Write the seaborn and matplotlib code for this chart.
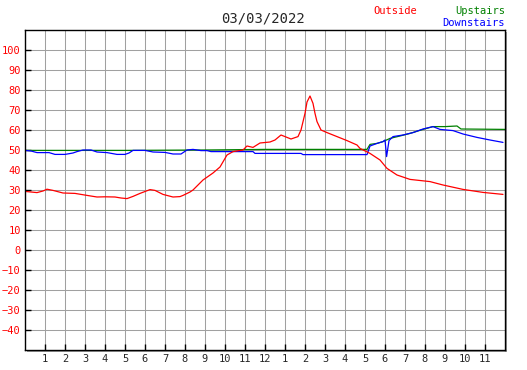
import seaborn as sns
import pandas as pd
import matplotlib.pyplot as plt
from matplotlib.patches import Rectangle

# hours since midnight and temperatures
out_hours = [0.0, 0.3, 0.6, 0.9, 1.1, 1.4, 1.9, 2.5, 3.1, 3.6, 4.0, 4.5, 4.8, 5.1, 5.4,
             5.75, 6.25, 6.5, 6.9, 7.4, 7.75, 7.9, 8.25, 8.4, 8.9, 9.4, 9.75, 10.1, 10.4,
             10.9, 11.1, 11.4, 11.75, 12.25, 12.5, 12.8, 13.1, 13.3, 13.65, 13.8, 14.0,
             14.1, 14.25, 14.4, 14.5, 14.6, 14.8, 15.1, 15.6, 16.1, 16.6, 16.75, 17.25,
             17.75, 18.1, 18.6, 19.25, 20.25, 20.9, 21.9, 22.9, 23.9]
outside = [29.3, 29.0, 28.7, 29.5, 30.4, 29.8, 28.5, 28.3, 27.3, 26.5, 26.6, 26.5, 26.0, 25.7, 26.8,
           28.3, 30.2, 29.8, 27.8, 26.5, 26.7, 27.3, 29.0, 30.0, 35.0, 38.5, 41.5, 47.5, 49.2,
           50.0, 52.0, 51.3, 53.5, 54.0, 55.0, 57.5, 56.3, 55.5, 56.7, 60.0, 68.3,
           74.0, 77.0, 73.3, 68.3, 64.2, 60.0, 58.7, 56.7, 54.7, 52.5, 50.8, 48.3,
           45.0, 40.8, 37.5, 35.3, 34.2, 32.5, 30.3, 28.8, 27.8]

up_hours = [0.0, 5.0, 9.0, 12.0, 17.1, 17.25, 17.6, 17.9, 18.25, 18.75, 19.25, 19.9,
            20.4, 21.0, 21.6, 21.8, 24.0]
upstairs = [49.8, 49.8, 50.0, 50.3, 50.3, 52.8, 53.3, 54.2, 55.8, 57.0, 58.3, 60.3,
            61.7, 61.7, 62.0, 60.5, 60.3]

down_hours = [0.0, 0.3, 0.6, 1.2, 1.5, 2.0, 2.4, 2.6, 2.9, 3.3, 3.6, 4.1, 4.6, 5.0, 5.2,
              5.4, 6.0, 6.4, 7.0, 7.4, 7.8, 8.1, 8.4, 8.8, 9.1, 9.3, 11.4, 11.5, 13.8,
              13.9, 17.1, 17.25, 17.6, 17.9, 18.0, 18.08, 18.2, 18.4, 18.9, 19.4, 19.9,
              20.4, 20.75, 21.4, 21.9, 22.6, 23.25, 23.9]
downstairs = [49.8, 49.5, 48.7, 48.7, 47.8, 47.8, 48.5, 49.2, 50.0, 50.0, 49.0, 48.7, 47.8, 47.8, 48.5,
              49.8, 49.8, 49.0, 48.8, 48.0, 48.0, 50.0, 50.3, 49.7, 49.7, 49.2, 49.2, 48.3, 48.3,
              47.7, 47.7, 52.0, 53.3, 54.2, 55.0, 46.7, 54.7, 56.7, 57.5, 58.7, 60.5,
              61.7, 60.3, 59.7, 58.0, 56.3, 55.0, 53.8]

x_ticks = list(range(1, 24))
x_labels = [str(h if h <= 12 else h - 12) for h in x_ticks]
y_ticks = list(range(-40, 101, 10))

sns.set_style("white")
plt.rcParams['font.family'] = ['DejaVu Sans Mono']

W, H = 527, 370
fig = plt.figure(figsize=(W / 100, H / 100), dpi=100)
ax = fig.add_axes([25 / W, 20 / H, 480 / W, 320 / H])

# drop shadow behind the plot frame
fig.patches.append(Rectangle((27 / W, 18 / H), 480 / W, 320 / H, transform=fig.transFigure,
                             facecolor="#999999", edgecolor="none", zorder=-1))

sns.lineplot(data=pd.DataFrame({"h": up_hours, "t": upstairs}), x="h", y="t",
             color="#008000", lw=0.9, ax=ax)
sns.lineplot(data=pd.DataFrame({"h": down_hours, "t": downstairs}), x="h", y="t",
             color="#0000ff", lw=0.9, ax=ax)
sns.lineplot(data=pd.DataFrame({"h": out_hours, "t": outside}), x="h", y="t",
             color="#ff0000", lw=0.9, ax=ax)

ax.set_xlim(0, 24)
ax.set_ylim(-50, 110)
ax.set_xticks(x_ticks)
ax.set_xticklabels(x_labels)
ax.set_yticks(y_ticks)
ax.set_xlabel("")
ax.set_ylabel("")
ax.grid(True, color="#a0a0a0", lw=0.75)
ax.set_axisbelow(True)
ax.tick_params(direction="in", length=4, width=1, color="black", labelsize=7.5, pad=3,
               bottom=True, left=True)
for lbl in ax.get_yticklabels():
    lbl.set_color("red")
for sp in ax.spines.values():
    sp.set_color("black")
    sp.set_linewidth(1.0)

fig.text(263 / W, 1 - 19 / H, "03/03/2022", ha="center", va="center", fontsize=10)
fig.text(373 / W, 1 - 11 / H, "Outside", ha="left", va="center", fontsize=7.5, color="red")
fig.text(505 / W, 1 - 11 / H, "Upstairs", ha="right", va="center", fontsize=7.5, color="#008000")
fig.text(505 / W, 1 - 23 / H, "Downstairs", ha="right", va="center", fontsize=7.5, color="#0000ff")

fig.savefig("out.png", dpi=100)
